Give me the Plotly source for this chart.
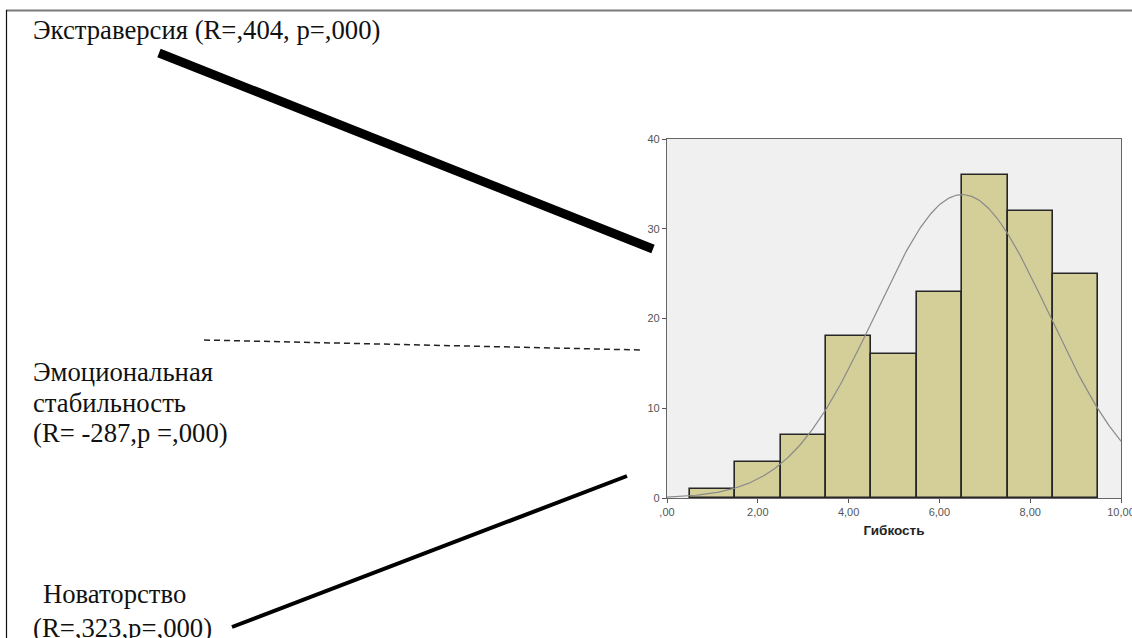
import numpy as np
import plotly.graph_objects as go

W, H = 1132, 638

# Histogram of "Гибкость": bin centres and counts
bin_centers = [1, 2, 3, 4, 5, 6, 7, 8, 9]
counts = [1, 4, 7, 18, 16, 23, 36, 32, 25]

x_tickvals = [0, 2, 4, 6, 8, 10]
x_ticktext = [",00", "2,00", "4,00", "6,00", "8,00", "10,00"]
y_tickvals = [0, 10, 20, 30, 40]

labels = {
    "extra": "Экстраверсия (R=,404, p=,000)",
    "emo": ["Эмоциональная", "стабильность", "(R= -287,p =,000)"],
    "nov": ["Новаторство", "(R=,323,p=,000)"],
}

# Normal curve fitted to the binned data (mean / sd of the histogram)
c = np.array(bin_centers, float)
n = np.array(counts, float)
N = n.sum()
mu = (c * n).sum() / N
sd = np.sqrt(((c - mu) ** 2 * n).sum() / (N - 1))
xs = np.linspace(0, 10, 300)
ys = N * 1.0 / (sd * np.sqrt(2 * np.pi)) * np.exp(-0.5 * ((xs - mu) / sd) ** 2)


def px(x):
    return x / W


def py(y):
    return 1 - y / H


fig = go.Figure()
fig.add_trace(go.Bar(
    x=bin_centers, y=counts, width=1,
    marker=dict(color="#D4CF98", line=dict(color="#262626", width=1.6)),
    hoverinfo="skip",
))
fig.add_trace(go.Scatter(
    x=xs, y=ys, mode="lines",
    line=dict(color="#8a8a8a", width=1.2), hoverinfo="skip",
))

tick_font = dict(family="Liberation Sans, Arial", size=11, color="#555")
fig.update_layout(
    width=W, height=H, autosize=False,
    margin=dict(l=0, r=0, t=0, b=0, pad=0, autoexpand=False),
    paper_bgcolor="white",
    plot_bgcolor="#F0F0F0",
    showlegend=False,
    bargap=0,
    xaxis=dict(
        domain=[px(667), px(1121)], range=[0, 10],
        tickvals=x_tickvals, ticktext=x_ticktext,
        ticks="outside", ticklen=4, tickcolor="#555",
        ticklabeloverflow="allow", automargin=False,
        showline=True, linecolor="#666", linewidth=1.2, mirror=True,
        showgrid=False, zeroline=False, tickfont=tick_font,
        title=dict(text="<b>Гибкость</b>", standoff=8,
                   font=dict(family="Liberation Sans, Arial", size=13.5, color="#222")),
    ),
    yaxis=dict(
        domain=[py(498), py(139)], range=[0, 40],
        tickvals=y_tickvals, automargin=False,
        ticks="outside", ticklen=4, tickcolor="#555",
        showline=True, linecolor="#666", linewidth=1.2, mirror=True,
        showgrid=False, zeroline=False, tickfont=tick_font,
    ),
)

# Page frame (top and left edges)
fig.add_shape(type="line", xref="paper", yref="paper",
              x0=px(6), y0=py(10.5), x1=px(1132), y1=py(10.5),
              line=dict(color="#7a7a7a", width=2))
fig.add_shape(type="line", xref="paper", yref="paper",
              x0=px(6.5), y0=py(10), x1=px(6.5), y1=py(638),
              line=dict(color="#111", width=1.2))

# Connector lines from each trait to the histogram
fig.add_shape(type="line", xref="paper", yref="paper",
              x0=px(159), y0=py(53), x1=px(653), y1=py(249),
              line=dict(color="black", width=9))
fig.add_shape(type="line", xref="paper", yref="paper",
              x0=px(204), y0=py(340), x1=px(641), y1=py(350),
              line=dict(color="#222", width=1.5, dash="6px,4px"))
fig.add_shape(type="line", xref="paper", yref="paper",
              x0=px(232), y0=py(627), x1=px(627), y1=py(476),
              line=dict(color="black", width=4))

text_font = dict(family="Liberation Serif, Times New Roman", size=26.7, color="#111")


def add_text(x, y, s):
    fig.add_annotation(x=px(x), y=py(y), xref="paper", yref="paper",
                       text=s, showarrow=False, xanchor="left", yanchor="middle",
                       font=text_font)


add_text(31, 30, labels["extra"])
for i, s in enumerate(labels["emo"]):
    add_text(31, 372 + 30.5 * i, s)
add_text(41, 594, labels["nov"][0])
add_text(31, 628, labels["nov"][1])

fig.write_html(
    "out.html",
    post_script="document.body.style.margin='0';document.body.style.overflow='hidden';",
)
